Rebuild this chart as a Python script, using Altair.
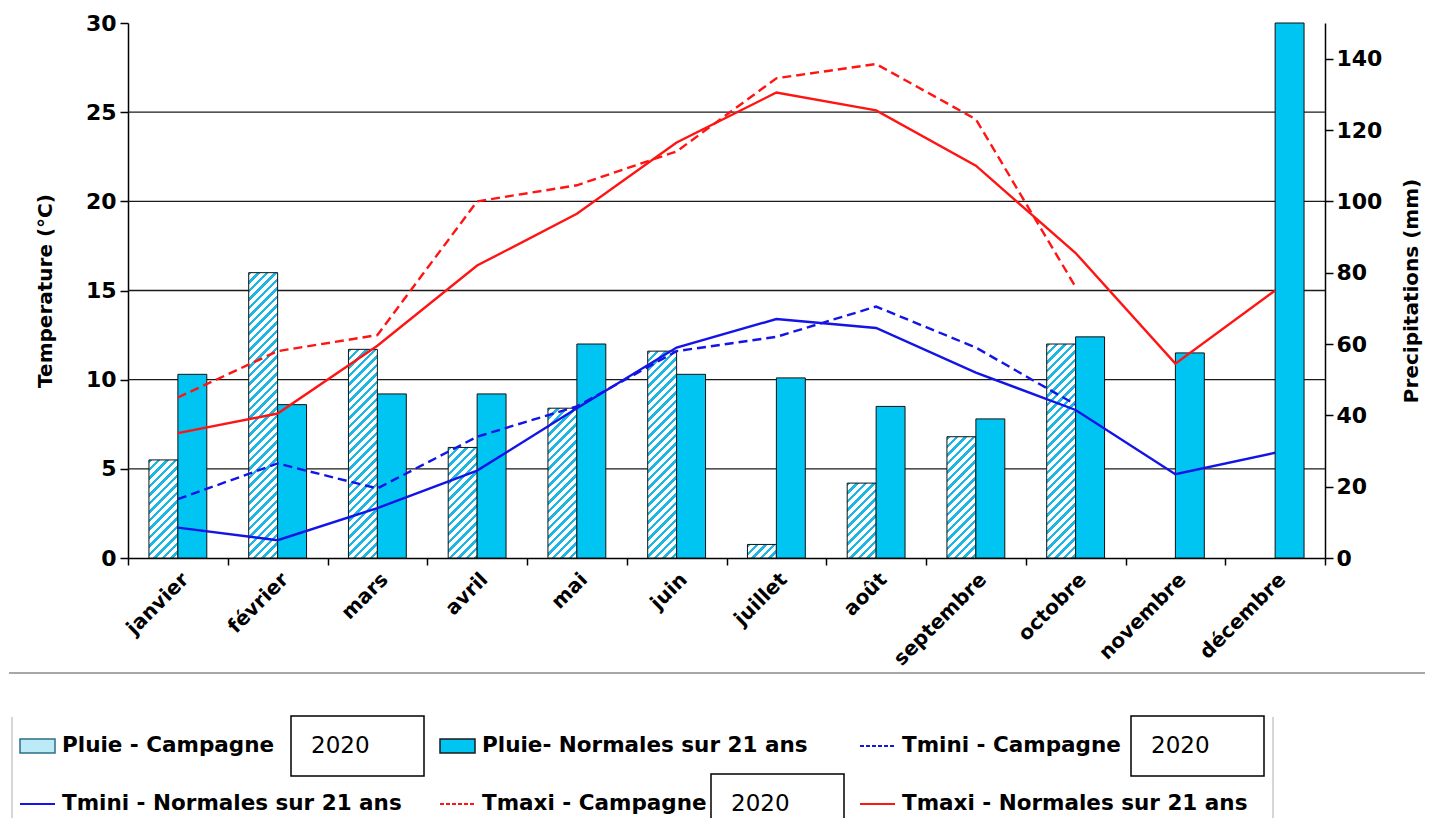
import altair as alt
import pandas as pd

# ---------------- data ----------------
months = ["janvier", "février", "mars", "avril", "mai", "juin", "juillet",
          "août", "septembre", "octobre", "novembre", "décembre"]
pluie_campagne = [27.5, 80.0, 58.5, 31.0, 42.0, 58.0, 3.8, 21.0, 34.0, 60.0, None, None]
pluie_normales = [51.5, 43.0, 46.0, 46.0, 60.0, 51.5, 50.5, 42.5, 39.0, 62.0, 57.5, 160.0]
tmin_campagne = [3.3, 5.3, 3.9, 6.8, 8.5, 11.6, 12.4, 14.1, 11.8, 8.6, None, None]
tmin_normales = [1.7, 1.0, 2.8, 4.9, 8.4, 11.8, 13.4, 12.9, 10.4, 8.3, 4.7, 5.9]
tmax_campagne = [9.0, 11.6, 12.5, 20.0, 20.9, 22.8, 26.9, 27.7, 24.6, 15.2, None, None]
tmax_normales = [7.0, 8.1, 11.9, 16.4, 19.3, 23.3, 26.1, 25.1, 22.0, 17.1, 10.9, 15.0]
temp_ticks = [0, 5, 10, 15, 20, 25, 30]
grid_values = [5, 10, 15, 20, 25]
precip_ticks = [0, 20, 40, 60, 80, 100, 120, 140]
legend_labels = ["Pluie - Campagne", "Pluie- Normales sur 21 ans", "Tmini - Campagne",
                 "Tmini - Normales sur 21 ans", "Tmaxi - Campagne", "Tmaxi - Normales sur 21 ans"]
legend_year = "2020"

# ---------------- style / layout ----------------
W, H = 1197, 535
TEMP_MAX, PRECIP_MAX = 30, 150
FONT = "DejaVu Sans"
CYAN = "#00C4F2"
HATCH = "#1DB6E2"
RED = "#FF1414"
BLUE = "#1414E6"
OFFSET_PAD = 0.724
STEP = W / len(months)
BAR_W = STEP / (2 + 2 * OFFSET_PAD)
DASH = [9, 5]


def hatch_fill(h, w, period=8.5, line=3.4):
    total = w + h
    r = h / w
    c = (1 + r) / (1 + r * r)
    stops = []
    s = 0.0
    while s < total:
        a = s / total
        b = min((s + line) / total, 1.0)
        e = min((s + period) / total, 1.0)
        stops += [{"color": HATCH, "offset": a}, {"color": HATCH, "offset": b},
                  {"color": "#FFFFFF", "offset": b}, {"color": "#FFFFFF", "offset": e}]
        s += period
    return {"gradient": "linear", "x1": 0, "y1": 0, "x2": c, "y2": c * r, "stops": stops}


axis_common = dict(labelFont=FONT, labelFontSize=22, labelFontWeight="bold", labelColor="#000",
                   titleFont=FONT, titleFontSize=20, titleFontWeight="bold", titleColor="#000",
                   domainColor="#000", domainWidth=1.5, tickColor="#000", tickWidth=1.5,
                   tickSize=8, grid=False)

x_axis = alt.Axis(title=None, labelAngle=-45, tickBand="extent", labelPadding=4,
                  labelFont=FONT, labelFontSize=20, labelFontWeight="bold", labelColor="#000",
                  domainColor="#000", domainWidth=1.5, tickColor="#000", tickWidth=1.5,
                  tickSize=7, grid=False)
x_enc = alt.X("mois:N", scale=alt.Scale(domain=months, paddingInner=0, paddingOuter=0), axis=x_axis)
xo_enc = alt.XOffset("serie:N", scale=alt.Scale(domain=["Campagne", "Normales"],
                                                paddingInner=0, paddingOuter=OFFSET_PAD))

yp_axis = alt.Axis(orient="right", values=precip_ticks, title="Precipitations (mm)",
                   titleAngle=270, labelPadding=3, titlePadding=40, **axis_common)
yp_enc = alt.Y("valeur:Q", scale=alt.Scale(domain=[0, PRECIP_MAX], nice=False, clamp=True), axis=yp_axis)

yt_axis = alt.Axis(orient="left", values=temp_ticks, title="Temperature (°C)",
                   labelPadding=4, titlePadding=30, **axis_common)
yt_scale = alt.Scale(domain=[0, TEMP_MAX], nice=False)

# ---------------- grid ----------------
grid = alt.Chart(pd.DataFrame({"t": grid_values})).mark_rule(color="#1a1a1a", strokeWidth=1.4).encode(
    y=alt.Y("t:Q", scale=yt_scale, axis=None)
)

# ---------------- bars ----------------
bar_layers = []
for m, v in zip(months, pluie_campagne):
    if v is None:
        continue
    h = min(v, PRECIP_MAX) / PRECIP_MAX * H
    df = pd.DataFrame({"mois": [m], "serie": ["Campagne"], "valeur": [v]})
    bar_layers.append(
        alt.Chart(df).mark_bar(fill=hatch_fill(h, BAR_W), stroke="#111", strokeWidth=1).encode(
            x=x_enc, xOffset=xo_enc, y=yp_enc)
    )
df_norm = pd.DataFrame({"mois": months, "serie": ["Normales"] * len(months), "valeur": pluie_normales})
bar_layers.append(
    alt.Chart(df_norm).mark_bar(fill=CYAN, stroke="#111", strokeWidth=1).encode(
        x=x_enc, xOffset=xo_enc, y=yp_enc)
)
bars = alt.layer(*bar_layers)

# ---------------- temperature lines ----------------
def line_layer(values, color, dash=None):
    df = pd.DataFrame({"mois": months, "t": values}).dropna()
    kw = dict(color=color, strokeWidth=2.4)
    if dash:
        kw["strokeDash"] = dash
    return alt.Chart(df).mark_line(**kw).encode(
        x=x_enc, y=alt.Y("t:Q", scale=yt_scale, axis=yt_axis))

lines = alt.layer(
    line_layer(tmin_normales, BLUE),
    line_layer(tmin_campagne, BLUE, DASH),
    line_layer(tmax_normales, RED),
    line_layer(tmax_campagne, RED, DASH),
)

main = alt.layer(grid, bars, lines).resolve_scale(y="independent")

# ---------------- legend ----------------
LEG_X0, LEG_STEP = -108, 420
LEG_Y0, LEG_DY = 723, 58
leg_df = pd.DataFrame({
    "label": legend_labels,
    "col": [i % 3 for i in range(len(legend_labels))],
    "row": [i // 3 for i in range(len(legend_labels))],
})
lx = alt.X("col:Q", scale=alt.Scale(domain=[0, 2], range=[LEG_X0, LEG_X0 + 2 * LEG_STEP]), axis=None)
ly = alt.Y("row:Q", scale=alt.Scale(domain=[0, 1], range=[LEG_Y0, LEG_Y0 + LEG_DY]), axis=None)

sym_styles = [
    dict(kind="patch", fill="#BDEAF7", stroke="#2B6F86"),
    dict(kind="patch", fill=CYAN, stroke="#1a1a1a"),
    dict(kind="line", stroke=BLUE, dash=[4, 2]),
    dict(kind="line", stroke=BLUE),
    dict(kind="line", stroke=RED, dash=[4, 2]),
    dict(kind="line", stroke=RED),
]
leg_layers = []
one = pd.DataFrame({"a": [0]})
leg_layers.append(alt.Chart(one).mark_rule(color="#A8A8A8", strokeWidth=2).encode(
    x=alt.value(-119), x2=alt.value(1306), y=alt.value(650)))
for bx in (-116, 1145):
    leg_layers.append(alt.Chart(one).mark_rule(color="#C8C8C8", strokeWidth=1.5).encode(
        x=alt.value(bx), y=alt.value(694), y2=alt.value(820)))

for i, st in enumerate(sym_styles):
    sub = leg_df.iloc[[i]]
    if st["kind"] == "patch":
        mk = alt.Chart(sub).mark_point(shape="M-1,-0.4H1V0.4H-1Z", size=1225, filled=True,
                                       fill=st["fill"], stroke=st["stroke"], strokeWidth=1.5,
                                       opacity=1, xOffset=17.5)
    else:
        kw = dict(shape="M-1,0H1", size=1225, filled=False, stroke=st["stroke"],
                  strokeWidth=2, opacity=1, xOffset=17.5)
        if "dash" in st:
            kw["strokeDash"] = st["dash"]
        mk = alt.Chart(sub).mark_point(**kw)
    leg_layers.append(mk.encode(x=lx, y=ly))

leg_layers.append(alt.Chart(leg_df).mark_text(align="left", baseline="middle", dx=42, font=FONT,
                                               fontSize=21.5, fontWeight="bold", color="#000").encode(
    x=lx, y=ly, text="label:N"))

year_df = leg_df[leg_df["label"].str.contains("Campagne")].copy()
year_df["year"] = legend_year
leg_layers.append(alt.Chart(year_df).mark_rect(fill="#FFFFFF", stroke="#000", strokeWidth=1.5,
                                                xOffset=271, x2Offset=404, yOffset=-30, y2Offset=30).encode(
    x=lx, x2="col:Q", y=ly, y2="row:Q"))
leg_layers.append(alt.Chart(year_df).mark_text(align="left", baseline="middle", dx=291, font=FONT,
                                                fontSize=23, color="#000").encode(
    x=lx, y=ly, text="year:N"))

legend = alt.layer(*leg_layers)

chart = alt.layer(main, legend).resolve_scale(x="independent", y="independent").properties(
    width=W, height=H,
    padding={"left": 120, "top": 15, "right": 100, "bottom": 260},
    autosize=alt.AutoSizeParams(type="none"),
).configure_view(stroke=None)

chart.save("out.html", embed_options={"renderer": "svg", "actions": False})
